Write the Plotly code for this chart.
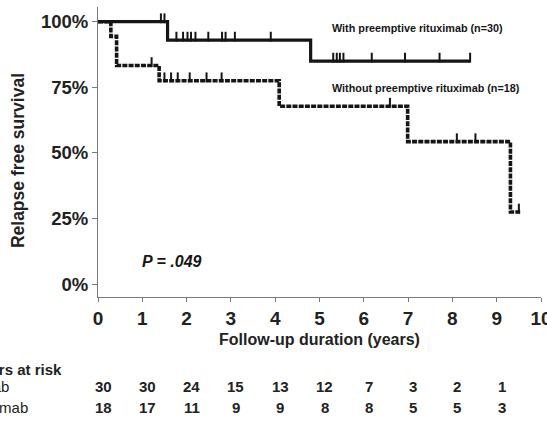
import numpy as np
import plotly.graph_objects as go

# ---- data ----
with_times = [0, 1.57, 4.8, 8.4]
with_surv = [100, 93.0, 85.0, 85.0]
with_censor = [1.42, 1.5, 1.77, 1.92, 2.02, 2.1, 2.2, 2.49, 2.8, 2.88, 3.09, 3.9,
               5.31, 5.39, 5.46, 5.54, 6.18, 6.93, 7.71, 8.4]

without_times = [0, 0.29, 0.42, 1.38, 4.09, 6.99, 9.31, 9.53]
without_surv = [100, 94.4, 83.3, 77.5, 67.8, 54.3, 27.5, 27.5]
without_censor = [1.21, 1.5, 1.65, 1.8, 2.07, 2.45, 2.79, 6.59, 8.1, 8.52, 9.5]

risk_years = [0, 1, 2, 3, 4, 5, 6, 7, 8, 9]
risk_with = [30, 30, 24, 15, 13, 12, 7, 3, 2, 1]
risk_without = [18, 17, 11, 9, 9, 8, 8, 5, 5, 3]

x_ticks = list(range(0, 11))
y_ticks = [0, 25, 50, 75, 100]
y_ticktext = ["0%", "25%", "50%", "75%", "100%"]

label_with = "With preemptive rituximab (n=30)"
label_without = "Without preemptive rituximab (n=18)"
p_text = "P = .049"

FONT = "Liberation Sans, Arial, sans-serif"
INK = "#151515"
AXIS = "#7a7a7a"


def step_level(times, surv, t):
    idx = np.searchsorted(np.array(times), t, side="right") - 1
    return np.array(surv)[idx]


tick_lift = 1.3  # censor tick drawn slightly above the curve (percent units)

fig = go.Figure()

fig.add_trace(go.Scatter(x=with_times, y=with_surv, mode="lines", line_shape="hv",
                         line=dict(color=INK, width=3.2), showlegend=False, hoverinfo="skip",
                         cliponaxis=False))
fig.add_trace(go.Scatter(x=with_censor,
                         y=step_level(with_times, with_surv, with_censor) + tick_lift,
                         mode="markers",
                         marker=dict(symbol="line-ns", size=7, line=dict(color=INK, width=2)),
                         showlegend=False, hoverinfo="skip"))

fig.add_trace(go.Scatter(x=without_times, y=without_surv, mode="lines", line_shape="hv",
                         line=dict(color=INK, width=3.6, dash="5px,1.2px"),
                         showlegend=False, hoverinfo="skip", cliponaxis=False))
fig.add_trace(go.Scatter(x=without_censor,
                         y=step_level(without_times, without_surv, without_censor) + tick_lift,
                         mode="markers",
                         marker=dict(symbol="line-ns", size=7, line=dict(color=INK, width=2)),
                         showlegend=False, hoverinfo="skip"))

annotations = []
annotations.append(dict(x=5.24, y=97.5, xref="x", yref="y", text=label_with, showarrow=False,
                        xanchor="left", yanchor="middle",
                        font=dict(family=FONT, size=10.8, color=INK, weight="bold")))
annotations.append(dict(x=5.24, y=74.7, xref="x", yref="y", text=label_without, showarrow=False,
                        xanchor="left", yanchor="middle",
                        font=dict(family=FONT, size=10.8, color=INK, weight="bold")))
annotations.append(dict(x=0.94, y=8.7, xref="x", yref="y", text="<i>" + p_text + "</i>",
                        showarrow=False, xanchor="left", yanchor="middle",
                        font=dict(family=FONT, size=16, color=INK, weight="bold")))
# axis titles
annotations.append(dict(x=-0.180, y=0.4695, xref="paper", yref="paper", text="Relapse free survival",
                        textangle=-90, showarrow=False, xanchor="center", yanchor="middle",
                        font=dict(family=FONT, size=17.5, color="#222", weight="bold")))
annotations.append(dict(x=5.0, y=-0.147, xref="x", yref="paper", text="Follow-up duration (years)",
                        showarrow=False, xanchor="center", yanchor="middle",
                        font=dict(family=FONT, size=16, color="#222", weight="bold")))
# numbers at risk
annotations.append(dict(x=-0.076, y=-0.2504, xref="paper", yref="paper", text="Numbers at risk",
                        showarrow=False, xanchor="right", yanchor="middle",
                        font=dict(family=FONT, size=15, color="#222", weight="bold")))
annotations.append(dict(x=-0.1973, y=-0.308, xref="paper", yref="paper", text="With preemptive rituximab",
                        showarrow=False, xanchor="right", yanchor="middle",
                        font=dict(family=FONT, size=15, color="#222")))
annotations.append(dict(x=-0.1544, y=-0.382, xref="paper", yref="paper", text="Without preemptive rituximab",
                        showarrow=False, xanchor="right", yanchor="middle",
                        font=dict(family=FONT, size=15, color="#222")))
for yr, a, b in zip(risk_years, risk_with, risk_without):
    annotations.append(dict(x=yr, y=-0.308, xref="x", yref="paper", text=str(a), xshift=5,
                            showarrow=False, xanchor="center", yanchor="middle",
                            font=dict(family=FONT, size=15, color="#222", weight="bold")))
    annotations.append(dict(x=yr, y=-0.382, xref="x", yref="paper", text=str(b), xshift=5,
                            showarrow=False, xanchor="center", yanchor="middle",
                            font=dict(family=FONT, size=15, color="#222", weight="bold")))

fig.update_layout(
    template="none",
    width=547, height=422,
    margin=dict(l=98, r=6, t=7, b=125, autoexpand=False),
    paper_bgcolor="white", plot_bgcolor="white",
    annotations=annotations,
    showlegend=False,
)
fig.update_xaxes(range=[0, 10], tickvals=x_ticks, showgrid=False, zeroline=False,
                 automargin=False, ticklabeloverflow="allow",
                 showline=True, linecolor=AXIS, linewidth=1,
                 ticks="outside", ticklen=4, tickcolor=AXIS, tickwidth=1,
                 tickfont=dict(family=FONT, size=19, color="#222", weight="bold"))
fig.update_yaxes(range=[-4.9, 105.6], tickvals=y_ticks, ticktext=y_ticktext, showgrid=False,
                 automargin=False,
                 zeroline=False, showline=True, linecolor=AXIS, linewidth=1,
                 ticks="outside", ticklen=5, tickcolor=AXIS, tickwidth=1,
                 tickfont=dict(family=FONT, size=18.5, color="#222", weight="bold"))

fig.write_html("out.html", config={"displayModeBar": False},
               post_script="document.body.style.margin='0';document.body.style.overflow='hidden';")
